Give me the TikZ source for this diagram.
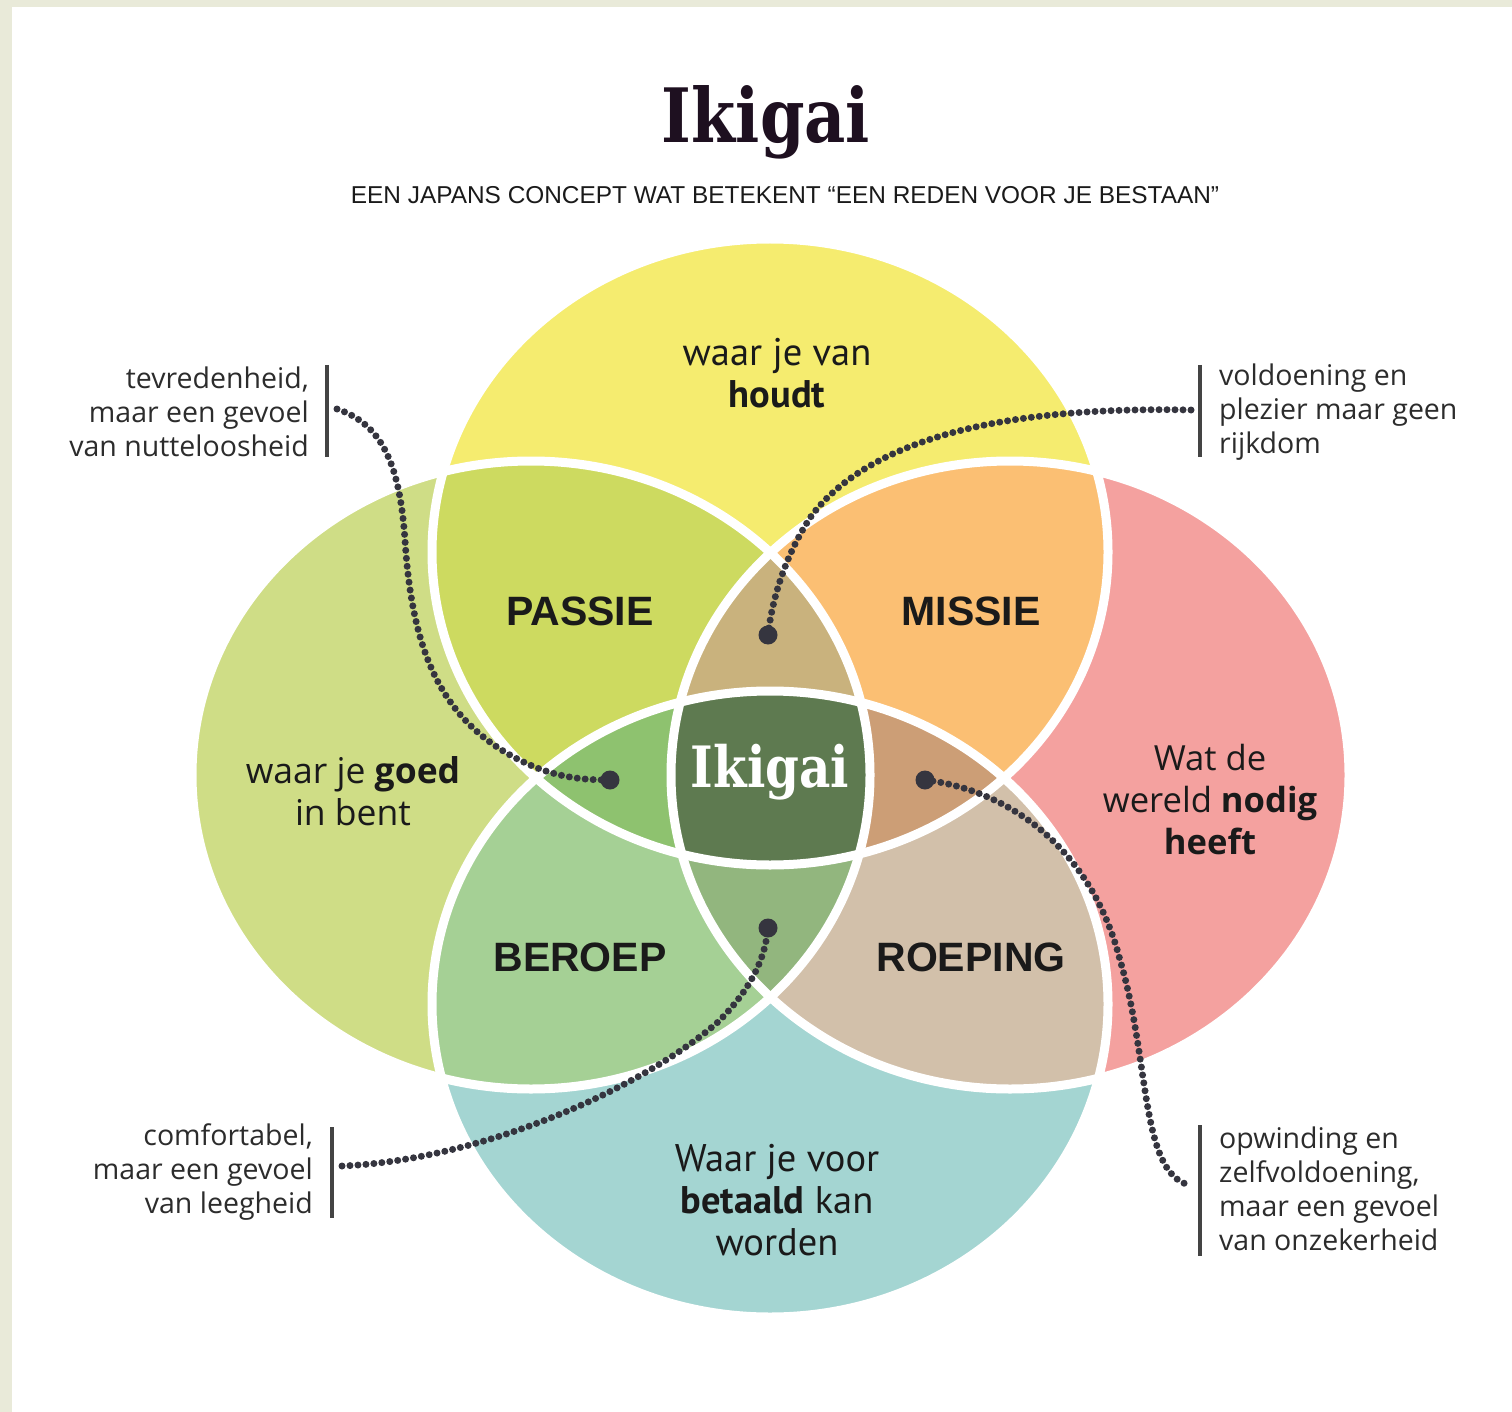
\documentclass[tikz,border=0pt]{standalone}
\usepackage{fontspec}
\setmainfont{Open Sans}
\newfontfamily\slabfont{DejaVu Serif}[FakeStretch=0.85]
\newfontfamily\subfont{Liberation Sans}
\newfontfamily\narrowfont{PT Sans}
\newfontfamily\headfont{Liberation Sans}
\definecolor{frame}{HTML}{E9EAD9}
\definecolor{cTop}{HTML}{F5EC6F}
\definecolor{cLeft}{HTML}{CFDD86}
\definecolor{cRight}{HTML}{F4A19F}
\definecolor{cBot}{HTML}{A4D5D2}
\definecolor{cTL}{HTML}{CDDA60}
\definecolor{cTR}{HTML}{FBBF73}
\definecolor{cBL}{HTML}{A5D095}
\definecolor{cBR}{HTML}{D2C0AA}
\definecolor{cTLR}{HTML}{C9B27D}
\definecolor{cTLB}{HTML}{8EC26F}
\definecolor{cTRB}{HTML}{CC9E76}
\definecolor{cBLR}{HTML}{92B67E}
\definecolor{cAll}{HTML}{5E7A50}
\definecolor{ink}{HTML}{1A1A1A}
\definecolor{titleink}{HTML}{1E1020}
\definecolor{dotc}{HTML}{35353F}
\definecolor{barc}{HTML}{444444}
\tikzset{
  elT/.style={insert path={(770,552) ellipse [x radius=338pt, y radius=313pt]}},
  elB/.style={insert path={(770,1004) ellipse [x radius=338pt, y radius=313pt]}},
  elL/.style={insert path={(531,775) ellipse [x radius=339pt, y radius=314pt]}},
  elR/.style={insert path={(1010,775) ellipse [x radius=339pt, y radius=314pt]}},
  sep/.style={draw=white, line width=9pt},
  head/.style={inner sep=0pt, text=ink, font=\headfont\bfseries\fontsize{41}{48}\selectfont},
  body/.style={inner sep=0pt, text=ink, align=center, font=\fontsize{35.5}{42}\selectfont},
  narrow/.style={inner sep=0pt, text=ink, align=center, font=\narrowfont\fontsize{38.5}{42}\selectfont},
  note/.style={inner sep=0pt, text=ink!92, font=\fontsize{28.5}{34}\selectfont},
  bar/.style={draw=barc, line width=4pt},
  dotline/.style={draw=dotc, line width=7pt, line cap=round, dash pattern=on 0pt off 8pt},
  enddot/.style={circle, fill=dotc, minimum size=19pt, inner sep=0pt}
}
\begin{document}
\begin{tikzpicture}[x=1pt,y=-1pt]
\useasboundingbox (0,0) rectangle (1512,1412);
\fill[white] (0,0) rectangle (1512,1412);
\fill[frame] (0,0) rectangle (1512,7);
\fill[frame] (0,0) rectangle (12,1412);
% single regions
\fill[cLeft, elL];
\fill[cRight, elR];
\fill[cTop, elT];
\fill[cBot, elB];
% pairs
\begin{scope}\clip[elT]; \fill[cTL, elL]; \fill[cTR, elR]; \end{scope}
\begin{scope}\clip[elB]; \fill[cBL, elL]; \fill[cBR, elR]; \end{scope}
% triples
\begin{scope}\clip[elT]; \clip[elL]; \fill[cTLR, elR]; \end{scope}
\begin{scope}\clip[elB]; \clip[elL]; \fill[cBLR, elR]; \end{scope}
\begin{scope}\clip[elT]; \clip[elB]; \fill[cTLB, elL]; \fill[cTRB, elR]; \end{scope}
% all four
\begin{scope}\clip[elT]; \clip[elB]; \clip[elL]; \fill[cAll, elR]; \end{scope}
% white separators
\draw[sep, elT];
\draw[sep, elB];
\draw[sep, elL];
\draw[sep, elR];

% title
\node[inner sep=0pt, text=titleink, font=\slabfont\bfseries\fontsize{75}{80}\selectfont] (title) at (766,122) {Ikigai};
\node[inner sep=0pt, text=ink, font=\subfont\fontsize{24.4}{28}\selectfont] (subtitle) at (785,195) {EEN JAPANS CONCEPT WAT BETEKENT “EEN REDEN VOOR JE BESTAAN”};

% circle labels
\node[narrow] (love) at (777,373) {waar je van\\\textbf{houdt}};
\node[body] (good) at (353,791) {waar je \textbf{goed}\\in bent};
\node[body, font=\fontsize{34.6}{42}\selectfont] (world) at (1210,800) {Wat de\\wereld \textbf{nodig}\\\textbf{heeft}};
\node[narrow] (paid) at (777,1200) {Waar je voor\\\textbf{betaald} kan\\worden};

% overlaps
\node[head] (passie) at (580,611) {PASSIE};
\node[head] (missie) at (971,611) {MISSIE};
\node[head] (beroep) at (580,957) {BEROEP};
\node[head] (roeping) at (971,957) {ROEPING};
\node[inner sep=0pt, text=white, font=\slabfont\bfseries\fontsize{57}{62}\selectfont] (ikigai) at (770,772) {Ikigai};

% annotations
\node[note, align=right, anchor=east] (ntl) at (309,412) {tevredenheid,\\maar een gevoel\\van nutteloosheid};
\node[note, align=left, anchor=west] (ntr) at (1219,412) {voldoening en\\plezier maar geen\\rijkdom};
\node[note, align=right, anchor=east] (nbl) at (313,1172) {comfortabel,\\maar een gevoel\\van leegheid};
\node[note, align=left, anchor=west] (nbr) at (1219,1189) {opwinding en\\zelfvoldoening,\\maar een gevoel\\van onzekerheid};

% bars
\coordinate (tlbA) at (327,365); \coordinate (tlbB) at (327,457);
\coordinate (trbA) at (1200,365); \coordinate (trbB) at (1200,457);
\coordinate (blbA) at (332,1127); \coordinate (blbB) at (332,1218);
\coordinate (brbA) at (1200,1125); \coordinate (brbB) at (1200,1256);
\draw[bar] (tlbA) -- (tlbB);
\draw[bar] (trbA) -- (trbB);
\draw[bar] (blbA) -- (blbB);
\draw[bar] (brbA) -- (brbB);

% connectors
\node[enddot] (d1) at (610,780) {};
\node[enddot] (d2) at (768,635) {};
\node[enddot] (d3) at (768,928) {};
\node[enddot] (d4) at (925,780) {};
\coordinate (s1) at (337,409);
\coordinate (s2) at (1191,410);
\coordinate (s3) at (342,1166);
\coordinate (s4) at (1189,1185);
\draw[dotline] (s1) .. controls (385,425) and (400,470) .. (405,540)
  .. controls (412,650) and (440,725) .. (530,765)
  .. controls (560,778) and (585,780) .. (d1.center);
\draw[dotline] (s2) .. controls (1000,406) and (870,440) .. (812,515)
  .. controls (785,555) and (772,600) .. (d2.center);
\draw[dotline] (s3) .. controls (480,1160) and (640,1090) .. (718,1022)
  .. controls (750,990) and (765,960) .. (d3.center);
\draw[dotline] (d4.center) .. controls (1010,790) and (1092,850) .. (1120,960)
  .. controls (1150,1060) and (1140,1172) .. (s4);
\end{tikzpicture}
\end{document}
